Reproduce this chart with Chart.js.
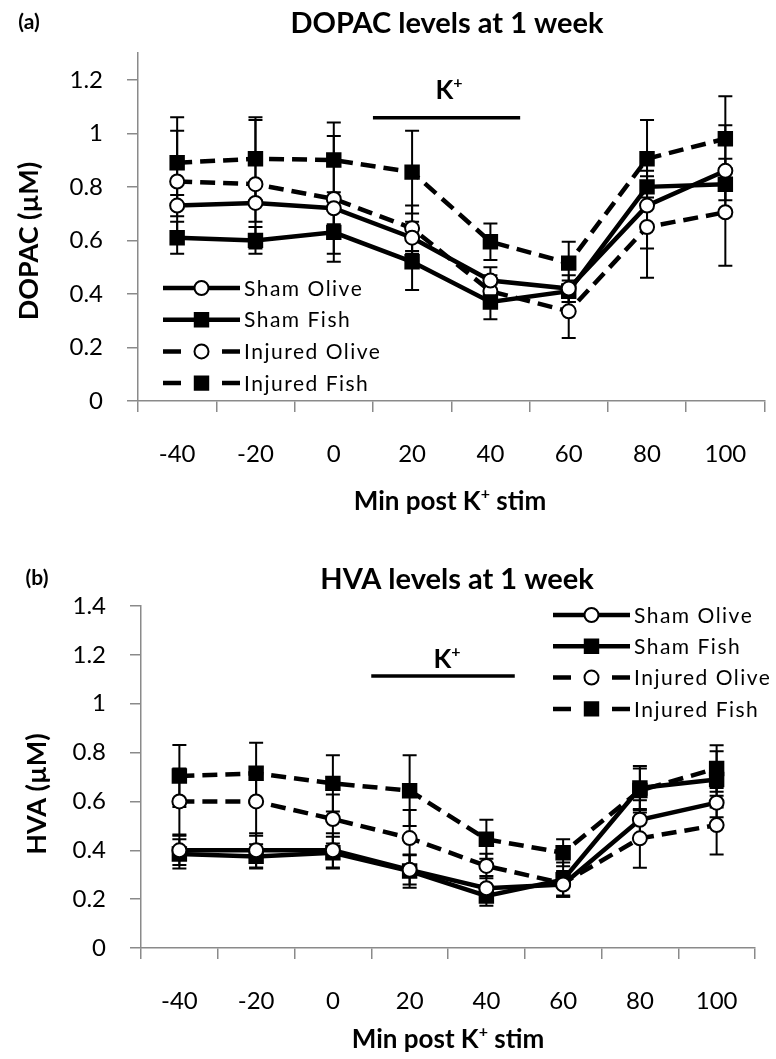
<!DOCTYPE html>
<html lang="en">
<head>
  <meta charset="UTF-8">
  <title>DOPAC and HVA levels at 1 week</title>
  <script src="https://cdn.jsdelivr.net/npm/chart.js"></script>
  <style>
    body { margin: 0; background: #fff; }
    .panel { position: absolute; left: 0; width: 776px; }
    #panelA { top: 0; height: 520px; }
    #panelB { top: 520px; height: 539px; }
  </style>
</head>
<body>
  <div class="panel" id="panelA"><canvas id="chartA"></canvas></div>
  <div class="panel" id="panelB"><canvas id="chartB"></canvas></div>

  <script>
    // x categories (min post K+ stim)
    const minutes = ['-40', '-20', '0', '20', '40', '60', '80', '100'];
    const seriesNames = ['Sham Olive', 'Sham Fish', 'Injured Olive', 'Injured Fish'];

    // (a) DOPAC, uM
    const dopacShamOlive    = [0.73, 0.74, 0.72, 0.61, 0.45, 0.42, 0.73, 0.86];
    const dopacShamFish     = [0.61, 0.60, 0.63, 0.52, 0.37, 0.41, 0.80, 0.81];
    const dopacInjuredOlive = [0.82, 0.81, 0.755, 0.645, 0.41, 0.335, 0.65, 0.705];
    const dopacInjuredFish  = [0.89, 0.905, 0.90, 0.855, 0.595, 0.515, 0.905, 0.98];
    // error bars (+/-)
    const dopacShamOliveErr    = [0.04, 0.07, 0.06, 0.06, 0.05, 0.05, 0.16, 0.17];
    const dopacShamFishErr     = [0.06, 0.05, 0.08, 0.105, 0.065, 0.04, 0.06, 0.06];
    const dopacInjuredOliveErr = [0.19, 0.24, 0.235, 0.085, 0.06, 0.10, 0.19, 0.20];
    const dopacInjuredFishErr  = [0.17, 0.155, 0.14, 0.155, 0.068, 0.08, 0.145, 0.158];

    // (b) HVA, uM
    const hvaShamOlive    = [0.40, 0.40, 0.40, 0.32, 0.245, 0.26, 0.525, 0.595];
    const hvaShamFish     = [0.385, 0.375, 0.39, 0.315, 0.213, 0.28, 0.655, 0.69];
    const hvaInjuredOlive = [0.60, 0.60, 0.528, 0.45, 0.336, 0.265, 0.449, 0.503];
    const hvaInjuredFish  = [0.704, 0.715, 0.674, 0.644, 0.445, 0.39, 0.645, 0.735];
    const hvaShamOliveErr    = [0.06, 0.07, 0.07, 0.06, 0.05, 0.05, 0.08, 0.06];
    const hvaShamFishErr     = [0.06, 0.05, 0.065, 0.068, 0.04, 0.07, 0.09, 0.115];
    const hvaInjuredOliveErr = [0.135, 0.14, 0.10, 0.115, 0.05, 0.05, 0.12, 0.12];
    const hvaInjuredFishErr  = [0.127, 0.125, 0.115, 0.145, 0.08, 0.055, 0.09, 0.095];

    const AXIS_GREY = '#8a8a8a';
    const FONT = 'Lato, "Open Sans", sans-serif';

    // line + marker style for each of the 4 series
    const seriesStyles = [
      { dash: [],       width: 4.5, pointStyle: 'circle', radius: 7,   fill: '#fff' },
      { dash: [],       width: 4.5, pointStyle: 'rect',   radius: 9.5, fill: '#000' },
      { dash: [15, 8],  width: 4.5, pointStyle: 'circle', radius: 7,   fill: '#fff' },
      { dash: [15, 8],  width: 4.5, pointStyle: 'rect',   radius: 9.5, fill: '#000' }
    ];

    function buildDatasets(values, errors) {
      return values.map((vals, i) => ({
        label: seriesNames[i],
        data: vals,
        errors: errors[i],
        borderColor: '#000',
        borderWidth: seriesStyles[i].width,
        borderDash: seriesStyles[i].dash,
        tension: 0,
        fill: false,
        pointStyle: seriesStyles[i].pointStyle,
        pointRadius: seriesStyles[i].radius,
        pointHoverRadius: seriesStyles[i].radius,
        pointBackgroundColor: seriesStyles[i].fill,
        pointBorderColor: '#000',
        pointBorderWidth: 2
      }));
    }

    // draw text with a superscript part, centered on (cx, cy)
    function drawRich(ctx, parts, cx, cy, size, weight) {
      const fonts = parts.map(p => `${weight} ${p.sup ? Math.round(size * 0.62) : size}px ${FONT}`);
      let total = 0;
      const widths = parts.map((p, i) => {
        ctx.font = fonts[i];
        const w = ctx.measureText(p.t).width;
        total += w;
        return w;
      });
      let x = cx - total / 2;
      ctx.textAlign = 'left';
      ctx.textBaseline = 'middle';
      parts.forEach((p, i) => {
        ctx.font = fonts[i];
        ctx.fillText(p.t, x, p.sup ? cy - size * 0.3 : cy);
        x += widths[i];
      });
    }

    // vertical error bars with caps, under the lines and markers
    const errorBarPlugin = {
      id: 'errorBars',
      beforeDatasetsDraw(chart) {
        const ctx = chart.ctx;
        const yScale = chart.scales.y;
        ctx.save();
        ctx.strokeStyle = '#000';
        ctx.lineWidth = 2;
        ctx.setLineDash([]);
        chart.data.datasets.forEach((ds, i) => {
          const meta = chart.getDatasetMeta(i);
          ds.data.forEach((v, j) => {
            const e = ds.errors[j];
            const x = meta.data[j].x;
            const yTop = yScale.getPixelForValue(v + e);
            const yBot = yScale.getPixelForValue(v - e);
            ctx.beginPath();
            ctx.moveTo(x, yTop); ctx.lineTo(x, yBot);
            ctx.moveTo(x - 7, yTop); ctx.lineTo(x + 7, yTop);
            ctx.moveTo(x - 7, yBot); ctx.lineTo(x + 7, yBot);
            ctx.stroke();
          });
        });
        ctx.restore();
      }
    };

    // titles, panel tag, K+ bar and the legend
    const decorPlugin = {
      id: 'decor',
      afterDraw(chart, args, o) {
        const ctx = chart.ctx;
        const xs = chart.scales.x, ys = chart.scales.y;
        ctx.save();
        ctx.fillStyle = '#000';

        ctx.font = `bold 21px ${FONT}`;
        ctx.textAlign = 'center';
        ctx.textBaseline = 'middle';
        ctx.fillText(o.tag, o.tagPos[0], o.tagPos[1]);

        ctx.font = `bold 29px ${FONT}`;
        ctx.fillText(o.title, o.titlePos[0], o.titlePos[1]);

        // y axis title
        ctx.save();
        ctx.translate(o.yTitlePos[0], o.yTitlePos[1]);
        ctx.rotate(-Math.PI / 2);
        ctx.font = `bold 27px ${FONT}`;
        ctx.fillText(o.yTitle, 0, 0);
        ctx.restore();

        // x axis title
        drawRich(ctx, [{ t: 'Min post K' }, { t: '+', sup: true }, { t: ' stim' }],
          o.xTitlePos[0], o.xTitlePos[1], 26, 'bold');

        // K+ stimulation bar
        const bx0 = xs.getPixelForValue(o.kBar[0]);
        const bx1 = xs.getPixelForValue(o.kBar[1]);
        const by = ys.getPixelForValue(o.kBar[2]);
        ctx.strokeStyle = '#000';
        ctx.lineWidth = 3.5;
        ctx.beginPath();
        ctx.moveTo(bx0, by); ctx.lineTo(bx1, by);
        ctx.stroke();
        drawRich(ctx, [{ t: 'K' }, { t: '+', sup: true }], o.kTextPos[0], o.kTextPos[1], 26, 'bold');

        // legend
        chart.data.datasets.forEach((ds, i) => {
          const st = seriesStyles[i];
          const y = o.legendPos[1] + i * o.legendGap;
          const x0 = o.legendPos[0], x1 = x0 + 77;
          ctx.strokeStyle = '#000';
          ctx.lineWidth = st.width;
          ctx.setLineDash(st.dash.length ? [18, 41] : []);
          ctx.beginPath();
          ctx.moveTo(x0, y); ctx.lineTo(x1, y);
          ctx.stroke();
          ctx.setLineDash([]);
          ctx.fillStyle = st.fill;
          ctx.lineWidth = 2;
          Chart.helpers.drawPoint(ctx, { pointStyle: st.pointStyle, radius: st.radius, borderWidth: 2, rotation: 0 }, (x0 + x1) / 2, y);
          ctx.fillStyle = '#000';
          ctx.font = `21px ${FONT}`;
          ctx.letterSpacing = '1.5px';
          ctx.textAlign = 'left';
          ctx.textBaseline = 'middle';
          ctx.fillText(ds.label, x1 + 4, y + 1);
          ctx.letterSpacing = '0px';
        });
        ctx.restore();
      }
    };

    function makeChart(id, datasets, cfg) {
      return new Chart(document.getElementById(id), {
        type: 'line',
        data: { labels: minutes, datasets: datasets },
        plugins: [errorBarPlugin, decorPlugin],
        options: {
          responsive: true,
          maintainAspectRatio: false,
          animation: false,
          layout: { padding: { top: cfg.padTop, right: cfg.padRight, left: 0, bottom: 0 } },
          plugins: {
            legend: { display: false },
            tooltip: { enabled: false },
            decor: cfg.decor
          },
          scales: {
            x: {
              type: 'category',
              offset: true,
              afterFit: s => { s.height = cfg.xHeight; },
              grid: { drawOnChartArea: false, offset: true, tickLength: 11, color: AXIS_GREY, lineWidth: 1.5 },
              border: { color: AXIS_GREY, width: 1.5 },
              ticks: { color: '#000', padding: 28, font: { family: FONT, size: 24 }, maxRotation: 0 }
            },
            y: {
              min: 0,
              max: cfg.yMax,
              afterFit: s => { s.width = cfg.yWidth; },
              afterBuildTicks: s => {
                s.ticks = s.ticks.filter(t => Math.abs(t.value * 5 - Math.round(t.value * 5)) < 1e-6);
              },
              grid: { drawOnChartArea: false, tickLength: 11, color: AXIS_GREY, lineWidth: 1.5 },
              border: { color: AXIS_GREY, width: 1.5 },
              ticks: {
                stepSize: 0.2,
                color: '#000',
                padding: 24,
                font: { family: FONT, size: 24 },
                callback: v => String(+v.toFixed(1))
              }
            }
          }
        }
      });
    }

    makeChart('chartA',
      buildDatasets(
        [dopacShamOlive, dopacShamFish, dopacInjuredOlive, dopacInjuredFish],
        [dopacShamOliveErr, dopacShamFishErr, dopacInjuredOliveErr, dopacInjuredFishErr]),
      {
        padTop: 53, padRight: 9, xHeight: 119, yWidth: 138, yMax: 1.3,
        decor: {
          tag: '(a)', tagPos: [29, 22],
          title: 'DOPAC levels at 1 week', titlePos: [447, 24],
          yTitle: 'DOPAC (\u00b5M)', yTitlePos: [29, 241],
          xTitlePos: [450, 502],
          kBar: [2.5, 4.38, 1.058], kTextPos: [449, 91],
          legendPos: [163, 288], legendGap: 31.7
        }
      });

    makeChart('chartB',
      buildDatasets(
        [hvaShamOlive, hvaShamFish, hvaInjuredOlive, hvaInjuredFish],
        [hvaShamOliveErr, hvaShamFishErr, hvaInjuredOliveErr, hvaInjuredFishErr]),
      {
        padTop: 86, padRight: 21, xHeight: 111, yWidth: 141, yMax: 1.4,
        decor: {
          tag: '(b)', tagPos: [37, 58],
          title: 'HVA levels at 1 week', titlePos: [457, 60],
          yTitle: 'HVA (\u00b5M)', yTitlePos: [37, 274],
          xTitlePos: [448, 520],
          kBar: [2.5, 4.37, 1.113], kTextPos: [447, 140],
          legendPos: [553, 95], legendGap: 31.3
        }
      });
  </script>
</body>
</html>
